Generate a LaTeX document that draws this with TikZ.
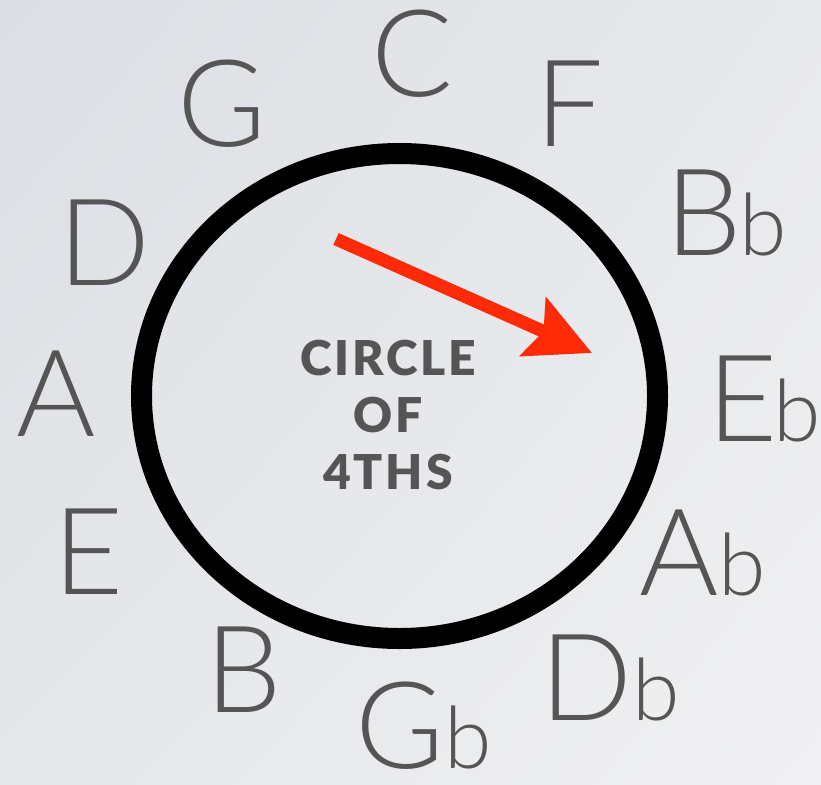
\documentclass[tikz,border=0pt]{standalone}
\usepackage{fontspec}
\usepackage{xcolor}
\usepackage{tikz}
\usetikzlibrary{arrows.meta,shadings}
\newfontfamily\notefont{Lato}[UprightFont={* Light}]
\newfontfamily\titlefont{Lato}[UprightFont={* Black}, LetterSpace=6]
\definecolor{fourthsink}{HTML}{555555}
\definecolor{fourthsred}{HTML}{FF2A08}
\definecolor{fourthsbgtl}{HTML}{DBDEE3}
\definecolor{fourthsbgtr}{HTML}{E8E9EC}
\definecolor{fourthsbgbl}{HTML}{E5E7EA}
\definecolor{fourthsbgbr}{HTML}{F0F0F2}
\newcommand{\flatsign}{{\fontsize{86}{90}\selectfont b}}

\begin{document}
\begin{tikzpicture}[x=1pt, y=-1pt,
  note/.style={font=\notefont\fontsize{121}{125}\selectfont, text=fourthsink, inner sep=0pt, text depth=0pt, anchor=base},
  title/.style={font=\titlefont\fontsize{48}{57}\selectfont, text=fourthsink, align=center, inner sep=0pt},
  ring/.style={draw=black, line width=21pt},
  pointer/.style={draw=fourthsred, line width=13pt, -{Stealth[length=64pt, width=63pt, inset=11pt]}}
]
  \useasboundingbox (0,0) rectangle (821,784);
  \shade[upper left=fourthsbgtl, upper right=fourthsbgtr, lower left=fourthsbgbl, lower right=fourthsbgbr] (0,0) rectangle (821,784);

  \draw[ring] (399.5,396) ellipse [x radius=258, y radius=242.5];
  \node[title] (name) at (388,415) {CIRCLE\\OF\\4THS};

  \coordinate (tail) at (336,239);
  \coordinate (head) at (592,353);
  \draw[pointer] (tail) -- (head);

  \node[note] (c)  at (412,96)    {C};
  \node[note] (f)  at (570,146.5) {F};
  \node[note] (bb) at (726,255)   {B\kern-2pt\flatsign};
  \node[note] (eb) at (764.5,441.5) {E\kern-4pt\flatsign};
  \node[note] (ab) at (703,595)   {A\flatsign};
  \node[note] (db) at (610,720)   {D\flatsign};
  \node[note] (gb) at (424,768)   {G\flatsign};
  \node[note] (b)  at (243.5,712.5) {B};
  \node[note] (e)  at (89,594)    {E};
  \node[note] (a)  at (56.5,436.5) {A};
  \node[note] (d)  at (104,285)   {D};
  \node[note] (g)  at (222,146)   {G};
\end{tikzpicture}
\end{document}
